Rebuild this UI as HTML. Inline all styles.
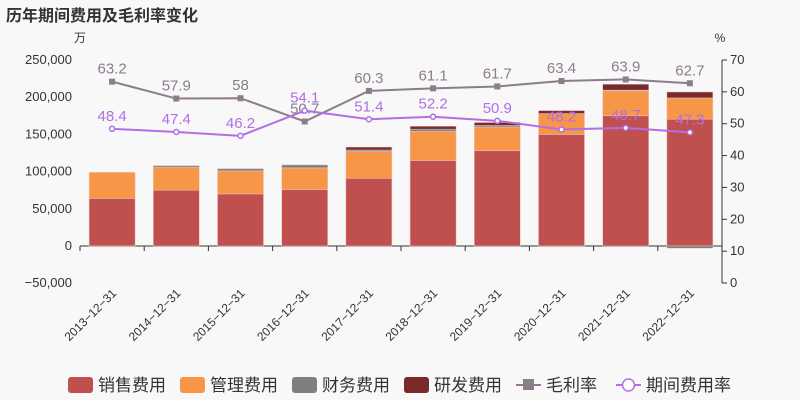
<!DOCTYPE html>
<html><head><meta charset="utf-8"><style>
body{margin:0;background:#f8f8f8;font-family:"Liberation Sans","Noto Sans CJK SC",sans-serif}
svg{display:block}
</style></head><body>
<svg id="c" width="800" height="400">
<text x="6" y="21" font-size="16" font-weight="bold" fill="#333">历年期间费用及毛利率变化</text>
<text x="80" y="42" font-size="12" fill="#333" text-anchor="middle">万</text>
<text x="720" y="42" font-size="12" fill="#333" text-anchor="middle">%</text>
</svg>
<script>
const categories=["2013-12-31","2014-12-31","2015-12-31","2016-12-31","2017-12-31","2018-12-31","2019-12-31","2020-12-31","2021-12-31","2022-12-31"];
const sales=[64000,75000,70000,76000,91000,115000,128000,150000,175000,170500];
const mgmt=[35000,31000,31000,29000,36000,39000,32000,28000,33500,28500];
const finance=[-1000,2000,3000,4000,2000,3000,2000,-1000,1000,-3000];
const rd=[0,0,0,0,4000,4000,4000,4000,8000,8000];
const grossMargin=[63.2,57.9,58,50.7,60.3,61.1,61.7,63.4,63.9,62.7];
const periodRate=[48.4,47.4,46.2,54.1,51.4,52.2,50.9,48.2,48.7,47.3];
const leftTicks=[-50000,0,50000,100000,150000,200000,250000];
const rightTicks=[0,10,20,30,40,50,60,70];
const NS="http://www.w3.org/2000/svg";
const svg=document.getElementById('c');
const x0=80,x1=722,bw=(x1-x0)/categories.length;
const yL=v=>246-v/250000*186;
const yR=v=>283-v/70*223;
const xc=i=>x0+bw*(i+0.5);
function el(t,a,p){const e=document.createElementNS(NS,t);for(const k in a)e.setAttribute(k,a[k]);(p||svg).appendChild(e);return e;}
leftTicks.forEach(v=>{const t=el('text',{x:72,y:yL(v)+4,'font-size':13,fill:'#333','text-anchor':'end'});t.textContent=v.toLocaleString('en-US').replace('-','−');

});
rightTicks.forEach(v=>{const t=el('text',{x:730,y:yR(v)+4,'font-size':13,fill:'#333'});t.textContent=v;


el('line',{x1:722,x2:727,y1:yR(v),y2:yR(v),stroke:'#333'});});
el('line',{x1:722,x2:722,y1:60,y2:283,stroke:'#333'});
el('line',{x1:x0,x2:x1,y1:246,y2:246,stroke:'#333'});
const cols=['#c0504d','#f79646','#7f7f7f','#7b2a2a'];
const names=['sales','mgmt','finance','rd'];
categories.forEach((c,i)=>{
 el('line',{x1:x0+bw*i,x2:x0+bw*i,y1:246,y2:251,stroke:'#333'});
 let pos=0,neg=0;
 [sales,mgmt,finance,rd].forEach((s,k)=>{const v=s[i];if(!v)return;let a,b;
  if(v>=0){a=pos;b=pos+v;pos=b;}else{a=neg;b=neg+v;neg=b;}
  const r=el('rect',{x:xc(i)-23,width:46,y:Math.min(yL(a),yL(b)),height:Math.abs(yL(a)-yL(b)),fill:cols[k],stroke:'#e8c8c8','stroke-width':0.5});
  
  });
 const t=el('text',{'font-size':12,fill:'#333','text-anchor':'end',transform:`translate(${xc(i)+5},${294}) rotate(-45)`});t.textContent=c.replace(/-/g,'−');
 
 
});
el('line',{x1:x1,x2:x1,y1:246,y2:251,stroke:'#333'});
function series(d,col,name,sq){
 el('polyline',{points:d.map((v,i)=>xc(i)+','+yR(v)).join(' '),fill:'none',stroke:col,'stroke-width':2});
 d.forEach((v,i)=>{let m;
  if(sq)m=el('rect',{x:xc(i)-3,y:yR(v)-3,width:6,height:6,fill:col});
  else m=el('circle',{cx:xc(i),cy:yR(v),r:2.5,fill:'#fff',stroke:col,'stroke-width':1.5});
  
  
  const t=el('text',{x:xc(i),y:yR(v)-8,'font-size':15,fill:col,'text-anchor':'middle'});t.textContent=v;
  
  });
}
series(grossMargin,'#8c7c8c','gross-margin',true);
series(periodRate,'#b36ee6','period-rate',false);
const leg=[['销售费用',cols[0],'r'],['管理费用',cols[1],'r'],['财务费用',cols[2],'r'],['研发费用',cols[3],'r'],['毛利率','#8c7c8c','s'],['期间费用率','#b36ee6','c']];
let lx=68;const widths=[112,112,112,112,100,120];
leg.forEach((l,i)=>{const g=el('g',{});
 
 
 if(l[2]=='r')el('rect',{x:lx,y:377,width:25,height:16,rx:3,fill:l[1]},g);
 else{el('line',{x1:lx,x2:lx+25,y1:385,y2:385,stroke:l[1],'stroke-width':2},g);
  if(l[2]=='s')el('rect',{x:lx+7,y:379,width:11,height:11,fill:l[1]},g);
  else el('circle',{cx:lx+12.5,cy:385,r:6,fill:'#fff',stroke:l[1],'stroke-width':1.5},g);}
 const t=el('text',{x:lx+30,y:391,'font-size':17,fill:'#333'},g);t.textContent=l[0];
 lx+=widths[i];});
</script>
</body></html>
